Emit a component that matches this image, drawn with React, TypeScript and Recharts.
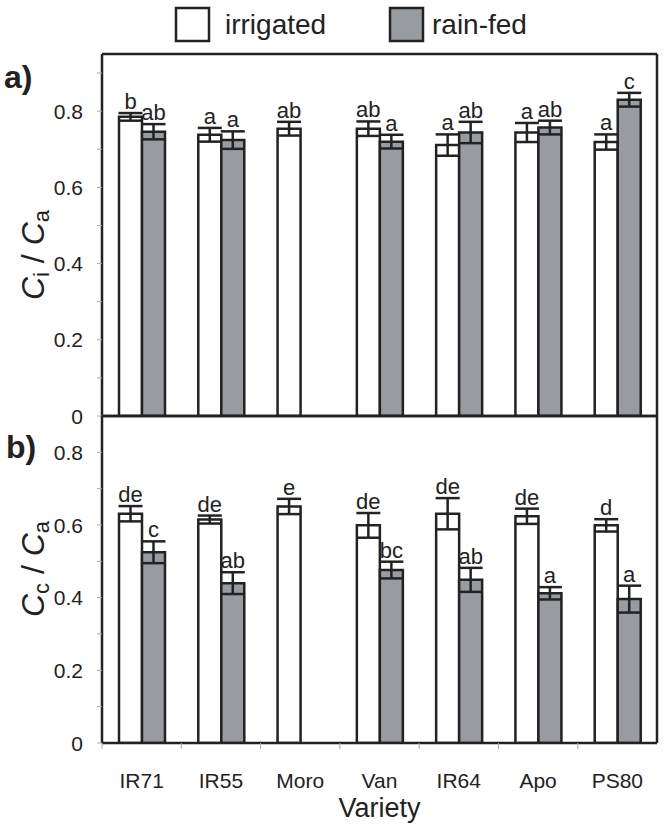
import { Bar, BarChart, ErrorBar, LabelList, XAxis, YAxis } from "recharts";

const VARIETIES = ["IR71", "IR55", "Moro", "Van", "IR64", "Apo", "PS80"];

// panel a: Ci / Ca
const CI_IRR = [0.785, 0.738, 0.754, 0.754, 0.711, 0.744, 0.719];
const CI_IRR_ERR = [0.01, 0.018, 0.018, 0.019, 0.028, 0.025, 0.02];
const CI_RF = [0.746, 0.724, null, 0.72, 0.744, 0.757, 0.83];
const CI_RF_ERR = [0.02, 0.023, null, 0.018, 0.028, 0.018, 0.018];
const CI_IRR_LETTERS = ["b", "a", "ab", "ab", "a", "a", "a"];
const CI_RF_LETTERS = ["ab", "a", "", "a", "ab", "ab", "c"];

// panel b: Cc / Ca
const CC_IRR = [0.631, 0.615, 0.651, 0.599, 0.631, 0.624, 0.599];
const CC_IRR_ERR = [0.021, 0.011, 0.021, 0.034, 0.043, 0.021, 0.017];
const CC_RF = [0.525, 0.44, null, 0.476, 0.449, 0.412, 0.396];
const CC_RF_ERR = [0.03, 0.03, null, 0.023, 0.033, 0.017, 0.037];
const CC_IRR_LETTERS = ["de", "de", "e", "de", "de", "de", "d"];
const CC_RF_LETTERS = ["c", "ab", "", "bc", "ab", "a", "a"];

const Y_TICKS_A = [0, 0.1, 0.2, 0.3, 0.4, 0.5, 0.6, 0.7, 0.8, 0.9];
const Y_TICKS_B = [0, 0.1, 0.2, 0.3, 0.4, 0.5, 0.6, 0.7, 0.8];

const SERIES = [
  { name: "irrigated", fill: "#ffffff" },
  { name: "rain-fed", fill: "#989ca1" },
];

const INK = "#222";
const FONT = "'Liberation Sans', Arial, sans-serif";
const BAND = 555 / 7;

const dataA = VARIETIES.map((variety, i) => ({
  variety,
  irr: CI_IRR[i],
  irrErr: CI_IRR_ERR[i],
  irrLetter: CI_IRR_LETTERS[i],
  rf: CI_RF[i],
  rfErr: CI_RF_ERR[i],
  rfLetter: CI_RF_LETTERS[i],
}));

const dataB = VARIETIES.map((variety, i) => ({
  variety,
  irr: CC_IRR[i],
  irrErr: CC_IRR_ERR[i],
  irrLetter: CC_IRR_LETTERS[i],
  rf: CC_RF[i],
  rfErr: CC_RF_ERR[i],
  rfLetter: CC_RF_LETTERS[i],
}));

// letter, error and value packed together so the label knows where the error bar ends
const letterKey = (key: "irr" | "rf") => (d: any) =>
  d[key] == null || !d[key + "Letter"] ? null : `${d[key + "Letter"]}|${d[key + "Err"]}|${d[key]}`;

function LetterLabel(props: any) {
  const { x, y, width, height, value } = props;
  if (!value) return null;
  const [letter, err, v] = String(value).split("|");
  const pxPerUnit = Number(height) / Number(v);
  const top = Number(y) - Number(err) * pxPerUnit;
  return (
    <text x={Number(x) + Number(width) / 2} y={top - 4} textAnchor="middle" fontSize={22} fill={INK} fontFamily={FONT}>
      {letter}
    </text>
  );
}

function YTick({ x, y, payload }: any) {
  const v = payload.value;
  if (Math.round(v * 10) % 2 !== 0) return null;
  return (
    <text x={x} y={y} dy="0.36em" textAnchor="end" fontSize={21} fill={INK} fontFamily={FONT}>
      {v === 0 ? "0" : v.toFixed(1)}
    </text>
  );
}

function XTick({ x, y, payload }: any) {
  const axisY = y - 30;
  return (
    <g>
      <line x1={x - BAND / 2} x2={x - BAND / 2} y1={axisY} y2={axisY + 6} stroke="#aaa" strokeWidth={1} />
      <text x={x} y={y} dy="0.71em" textAnchor="middle" fontSize={21} fill={INK} fontFamily={FONT}>
        {payload.value}
      </text>
    </g>
  );
}

function Panel({ data, ticks, domain, height, top, showAxis }: any) {
  return (
    <div style={{ position: "absolute", left: 0, top }}>
      <BarChart
        width={664}
        height={height}
        data={data}
        barGap={0}
        barSize={23}
        margin={showAxis ? { top: 15, right: 6, bottom: 0, left: 0 } : { top: 53, right: 6, bottom: 14, left: 0 }}
      >
        <XAxis xAxisId="top" orientation="top" dataKey="variety" height={1} tick={false} tickLine={false} axisLine={{ stroke: INK, strokeWidth: 2.5 }} />
        {showAxis ? (
          <XAxis
            dataKey="variety"
            height={89}
            tick={<XTick />}
            tickLine={false}
            tickSize={0}
            tickMargin={30}
            interval={0}
            axisLine={{ stroke: INK, strokeWidth: 2.5 }}
            label={{ value: "Variety", position: "insideBottom", offset: 15, fontSize: 27, fill: INK, fontFamily: FONT }}
          />
        ) : (
          <XAxis dataKey="variety" height={1} tick={false} tickLine={false} axisLine={{ stroke: INK, strokeWidth: 2.5 }} />
        )}
        <YAxis
          type="number"
          domain={domain}
          ticks={ticks}
          interval={0}
          width={102}
          tick={<YTick />}
          tickSize={5}
          tickMargin={14}
          tickLine={{ stroke: "#aaa", strokeWidth: 1 }}
          axisLine={{ stroke: INK, strokeWidth: 2.5 }}
          allowDataOverflow
        />
        <YAxis yAxisId="r" orientation="right" type="number" domain={[0, 1]} width={1} tick={false} tickLine={false} axisLine={{ stroke: INK, strokeWidth: 2.5 }} />
        <Bar dataKey="irr" name={SERIES[0].name} fill={SERIES[0].fill} stroke={INK} strokeWidth={2.5} isAnimationActive={false}>
          <ErrorBar dataKey="irrErr" width={12} stroke={INK} strokeWidth={2.5} />
          <LabelList dataKey={letterKey("irr")} content={<LetterLabel />} />
        </Bar>
        <Bar dataKey="rf" name={SERIES[1].name} fill={SERIES[1].fill} stroke={INK} strokeWidth={2.5} isAnimationActive={false}>
          <ErrorBar dataKey="rfErr" width={12} stroke={INK} strokeWidth={2.5} />
          <LabelList dataKey={letterKey("rf")} content={<LetterLabel />} />
        </Bar>
      </BarChart>
    </div>
  );
}

function YTitle({ cy, sub }: { cy: number; sub: string }) {
  return (
    <text transform={`translate(44, ${cy}) rotate(-90)`} textAnchor="middle" fontSize={32} fill={INK} fontFamily={FONT}>
      <tspan fontStyle="italic">C</tspan>
      <tspan fontSize={22} dy={5}>{sub}</tspan>
      <tspan dy={-5}> / </tspan>
      <tspan fontStyle="italic">C</tspan>
      <tspan fontSize={22} dy={5}>a</tspan>
    </text>
  );
}

export default function App() {
  return (
    <div style={{ position: "absolute", left: 0, top: 0, width: 664, height: 832, background: "#fff" }}>
      <Panel data={dataA} ticks={Y_TICKS_A} domain={[0, 0.95]} height={431} top={0} showAxis={false} />
      <Panel data={dataB} ticks={Y_TICKS_B} domain={[0, 0.9]} height={432} top={400} showAxis />
      <svg width={664} height={832} style={{ position: "absolute", left: 0, top: 0, pointerEvents: "none" }}>
        {SERIES.map((s, i) => (
          <g key={s.name}>
            <rect x={176 + i * 214} y={8} width={33} height={33} fill={s.fill} stroke={INK} strokeWidth={2.5} />
            <text x={225 + i * 207} y={34} fontSize={28} fill={INK} fontFamily={FONT}>
              {s.name}
            </text>
          </g>
        ))}
        <text x={4} y={88} fontSize={32} fontWeight="bold" fill={INK} fontFamily={FONT}>a)</text>
        <text x={6} y={458} fontSize={32} fontWeight="bold" fill={INK} fontFamily={FONT}>b)</text>
        <YTitle cy={255} sub="i" />
        <YTitle cy={569} sub="c" />
      </svg>
    </div>
  );
}
